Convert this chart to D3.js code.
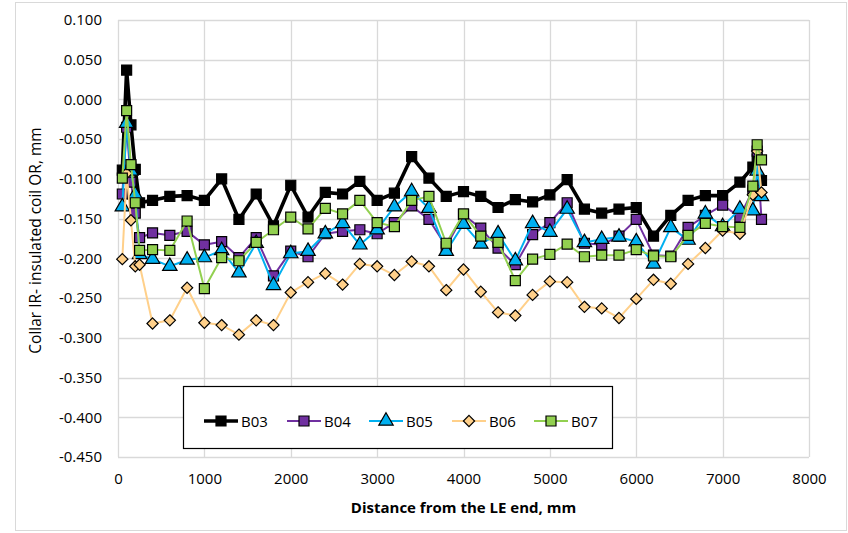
<!DOCTYPE html>
<html>
<head>
<meta charset="utf-8">
<script src="https://cdn.jsdelivr.net/npm/d3@7/dist/d3.min.js"></script>
<style>
  html, body { margin: 0; padding: 0; background: #fff; }
  svg { display: block; font-family: "Open Sans", "Liberation Sans", sans-serif; }
</style>
</head>
<body>
<svg id="chart" width="848" height="533"></svg>
<script>
// Distance from the LE end (mm) at each measurement station
const distances = [50, 100, 150, 200, 250,
  400, 600, 800, 1000, 1200, 1400, 1600, 1800,
  2000, 2200, 2400, 2600, 2800, 3000, 3200, 3400, 3600, 3800,
  4000, 4200, 4400, 4600, 4800, 5000, 5200, 5400, 5600, 5800,
  6000, 6200, 6400, 6600, 6800, 7000, 7200,
  7350, 7400, 7450];

// Collar IR minus insulated coil OR (mm) per coil
const b03 = [-0.089, 0.037, -0.032, -0.088, -0.130,
  -0.127, -0.122, -0.121, -0.127, -0.100, -0.151, -0.119, -0.159,
  -0.108, -0.148, -0.117, -0.119, -0.103, -0.127, -0.118, -0.072, -0.099, -0.122,
  -0.116, -0.122, -0.136, -0.126, -0.129, -0.120, -0.101, -0.138, -0.143, -0.138,
  -0.136, -0.172, -0.146, -0.127, -0.121, -0.121, -0.104,
  -0.085, -0.075, -0.102];
const b04 = [-0.119, -0.035, -0.104, -0.143, -0.174,
  -0.168, -0.171, -0.166, -0.183, -0.179, -0.199, -0.174, -0.222,
  -0.191, -0.198, -0.169, -0.166, -0.164, -0.169, -0.155, -0.134, -0.151, -0.185,
  -0.145, -0.162, -0.187, -0.208, -0.170, -0.155, -0.130, -0.181, -0.183, -0.172,
  -0.151, -0.196, -0.197, -0.161, -0.146, -0.133, -0.148,
  -0.114, -0.065, -0.151];
const b05 = [-0.135, -0.030, -0.090, -0.120, -0.195,
  -0.201, -0.210, -0.202, -0.199, -0.190, -0.218, -0.181, -0.234,
  -0.194, -0.191, -0.169, -0.156, -0.183, -0.164, -0.135, -0.116, -0.137, -0.191,
  -0.157, -0.182, -0.169, -0.203, -0.156, -0.167, -0.138, -0.180, -0.176, -0.173,
  -0.179, -0.207, -0.161, -0.177, -0.144, -0.160, -0.138,
  -0.140, -0.090, -0.122];
const b06 = [-0.201, -0.093, -0.152, -0.210, -0.208,
  -0.282, -0.278, -0.237, -0.281, -0.284, -0.296, -0.278, -0.284,
  -0.243, -0.230, -0.219, -0.233, -0.207, -0.210, -0.221, -0.204, -0.210, -0.240,
  -0.214, -0.242, -0.268, -0.272, -0.246, -0.229, -0.230, -0.261, -0.263, -0.275,
  -0.251, -0.227, -0.232, -0.207, -0.187, -0.165, -0.169,
  -0.120, -0.065, -0.117];
const b07 = [-0.099, -0.014, -0.082, -0.130, -0.190,
  -0.189, -0.190, -0.153, -0.238, -0.199, -0.203, -0.180, -0.164,
  -0.148, -0.163, -0.137, -0.144, -0.127, -0.155, -0.160, -0.127, -0.122, -0.181,
  -0.144, -0.172, -0.180, -0.228, -0.201, -0.195, -0.182, -0.198, -0.196, -0.196,
  -0.189, -0.197, -0.198, -0.171, -0.156, -0.160, -0.161,
  -0.109, -0.057, -0.076];

const seriesNames = ["B03", "B04", "B05", "B06", "B07"];
const xTicks = [0, 1000, 2000, 3000, 4000, 5000, 6000, 7000, 8000];
const yTicks = [0.1, 0.05, 0, -0.05, -0.1, -0.15, -0.2, -0.25, -0.3, -0.35, -0.4, -0.45];

const series = [
  { name: "B03", values: b03, line: "#000000", fill: "#000000", width: 3.6, symbol: d3.symbolSquare, size: 100 },
  { name: "B04", values: b04, line: "#7030A0", fill: "#7030A0", width: 2, symbol: d3.symbolSquare, size: 100 },
  { name: "B05", values: b05, line: "#00B0F0", fill: "#00B0F0", width: 2, symbol: d3.symbolTriangle, size: 90 },
  { name: "B06", values: b06, line: "#FFD08A", fill: "#FFD08A", width: 2, symbol: d3.symbolDiamond2, size: 80 },
  { name: "B07", values: b07, line: "#92D050", fill: "#92D050", width: 2, symbol: d3.symbolSquare, size: 100 }
];

const svg = d3.select("#chart");
const plot = { left: 118, top: 20, right: 809, bottom: 457 };

// outer chart frame
svg.append("rect")
  .attr("x", 15.5).attr("y", 2.5).attr("width", 831).attr("height", 528)
  .attr("fill", "#fff").attr("stroke", "#D9D9D9").attr("stroke-width", 1);

const x = d3.scaleLinear().domain([0, 8000]).range([plot.left, plot.right]);
const y = d3.scaleLinear().domain([-0.45, 0.1]).range([plot.bottom, plot.top]);

// gridlines
const grid = svg.append("g").attr("stroke", "#D9D9D9").attr("stroke-width", 1.3);
grid.selectAll("line.h").data(yTicks).join("line")
  .attr("x1", plot.left).attr("x2", plot.right)
  .attr("y1", d => Math.round(y(d)) + 0.5).attr("y2", d => Math.round(y(d)) + 0.5);
grid.selectAll("line.v").data(xTicks).join("line")
  .attr("y1", plot.top).attr("y2", plot.bottom)
  .attr("x1", d => Math.round(x(d)) + 0.5).attr("x2", d => Math.round(x(d)) + 0.5);

// axes (labels only, Excel style)
const yAxis = svg.append("g")
  .attr("transform", `translate(${plot.left},0)`)
  .call(d3.axisLeft(y).tickValues(yTicks).tickFormat(d3.format(".3f")).tickSize(0).tickPadding(16));
yAxis.select(".domain").remove();
yAxis.selectAll("text").attr("font-size", 15).attr("fill", "#000")
  .attr("font-family", "'Open Sans', sans-serif")
  .text(d => d3.format(".3f")(d).replace("−", "-"));

const xAxis = svg.append("g")
  .attr("transform", `translate(0,${plot.bottom})`)
  .call(d3.axisBottom(x).tickValues(xTicks).tickFormat(d3.format("d")).tickSize(0).tickPadding(16));
xAxis.select(".domain").remove();
xAxis.selectAll("text").attr("font-size", 15).attr("fill", "#000")
  .attr("font-family", "'Open Sans', sans-serif");

// axis titles
svg.append("text")
  .attr("x", (plot.left + plot.right) / 2).attr("y", 513)
  .attr("text-anchor", "middle").attr("font-size", 15).attr("font-weight", "bold")
  .text("Distance from the LE end, mm");
svg.append("text")
  .attr("transform", `translate(41,${(plot.top + plot.bottom) / 2 + 2}) rotate(-90)`)
  .attr("text-anchor", "middle").attr("font-size", 15.5)
  .text("Collar IR- insulated coil OR, mm");

// series lines and markers
const line = d3.line().x((d, i) => x(distances[i])).y(d => y(d));
series.forEach(s => {
  const g = svg.append("g");
  g.append("path").datum(s.values)
    .attr("d", line).attr("fill", "none")
    .attr("stroke", s.line).attr("stroke-width", s.width).attr("stroke-linejoin", "round");
  g.selectAll("path.m").data(s.values).join("path")
    .attr("class", "m")
    .attr("transform", (d, i) => `translate(${x(distances[i])},${y(d)})`)
    .attr("d", d3.symbol().type(s.symbol).size(s.size))
    .attr("fill", s.fill).attr("stroke", "#000").attr("stroke-width", 1.2);
});

// legend
const lg = svg.append("g");
lg.append("rect").attr("x", 183.5).attr("y", 386.5).attr("width", 429).attr("height", 62)
  .attr("fill", "#fff").attr("stroke", "#000").attr("stroke-width", 1.2);
const legendX = [204, 287, 369, 452, 534];
series.forEach((s, i) => {
  const lx = legendX[i], ly = 421;
  lg.append("line").attr("x1", lx).attr("x2", lx + 34).attr("y1", ly).attr("y2", ly)
    .attr("stroke", s.line).attr("stroke-width", s.width);
  lg.append("path").attr("transform", `translate(${lx + 17},${ly})`)
    .attr("d", d3.symbol().type(s.symbol).size(s.size))
    .attr("fill", s.fill).attr("stroke", "#000").attr("stroke-width", 1.2);
  lg.append("text").attr("x", lx + 37).attr("y", ly + 5.5)
    .attr("font-size", 15).text(seriesNames[i]);
});
</script>
</body>
</html>
